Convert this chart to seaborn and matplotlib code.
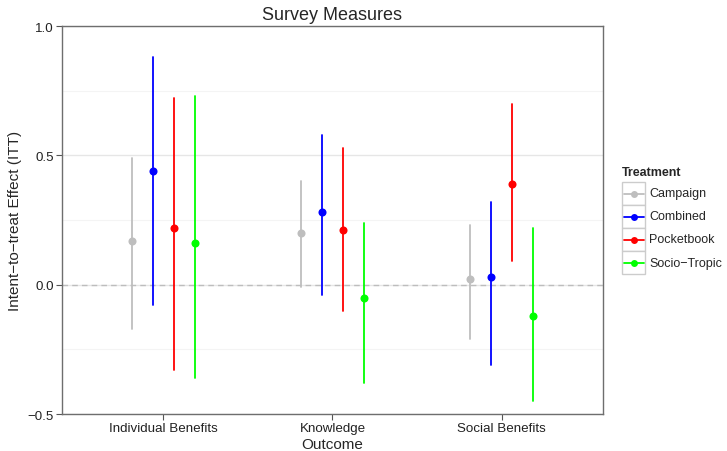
import numpy as np
import pandas as pd
from matplotlib import pyplot as plt
from matplotlib.lines import Line2D
from matplotlib.patches import Rectangle
import seaborn as sns

outcomes = ["Individual Benefits", "Knowledge", "Social Benefits"]
treatments = ["Campaign", "Combined", "Pocketbook", "Socio\u2212Tropic"]
colors = ["#BEBEBE", "#0000FF", "#FF0000", "#00FF00"]

# point estimates and interval ends, one list per treatment (order of outcomes)
est_campaign = [0.17, 0.20, 0.02]
est_combined = [0.44, 0.28, 0.03]
est_pocketbook = [0.22, 0.21, 0.39]
est_socio = [0.16, -0.05, -0.12]

lo_campaign = [-0.17, -0.01, -0.21]
lo_combined = [-0.08, -0.04, -0.31]
lo_pocketbook = [-0.33, -0.10, 0.09]
lo_socio = [-0.36, -0.38, -0.45]

hi_campaign = [0.49, 0.40, 0.23]
hi_combined = [0.88, 0.58, 0.32]
hi_pocketbook = [0.72, 0.53, 0.70]
hi_socio = [0.73, 0.24, 0.22]

est_all = [est_campaign, est_combined, est_pocketbook, est_socio]
lo_all = [lo_campaign, lo_combined, lo_pocketbook, lo_socio]
hi_all = [hi_campaign, hi_combined, hi_pocketbook, hi_socio]

# long table: lo / estimate / hi per cell -> median gives the estimate, full range gives the interval
rows = []
for t, e, l, h in zip(treatments, est_all, lo_all, hi_all):
    for i, o in enumerate(outcomes):
        for v in (l[i], e[i], h[i]):
            rows.append({"Outcome": o, "Treatment": t, "ITT": v})
df = pd.DataFrame(rows)

sns.set_theme(style="white")
plt.rcParams["font.family"] = ["Liberation Sans", "DejaVu Sans"]

W, H = 727, 452
fig = plt.figure(figsize=(W / 100, H / 100), dpi=100)
ax = fig.add_axes([62 / W, 1 - 415 / H, (603 - 62) / W, (415 - 27) / H])

ax.set_axisbelow(True)
for y in [-0.25, 0.25, 0.75]:
    ax.axhline(y, color="#F4F4F4", linewidth=0.8, zorder=0)
ax.grid(True, which="major", color="#E6E6E6", linewidth=1.0)
ax.axhline(0, color="#BDBDBD", linestyle=(0, (4, 3)), linewidth=1.0, zorder=1)

sns.pointplot(data=df, x="Outcome", y="ITT", hue="Treatment", order=outcomes,
              hue_order=treatments, palette=colors, estimator="median",
              errorbar=("pi", 100), dodge=0.375, linestyle="none",
              markersize=5.8, markeredgewidth=0, err_kws={"linewidth": 1.3},
              legend=False, ax=ax)

ax.set_xlim(-0.6, 2.6)
ax.set_ylim(-0.5, 1.0)
ax.set_yticks([-0.5, 0.0, 0.5, 1.0])
ax.set_yticklabels(["\u22120.5", "0.0", "0.5", "1.0"])
ax.tick_params(axis="both", direction="out", length=4, width=0.8, color="#555555",
               labelsize=9.6, labelcolor="#222222", pad=2,
               bottom=True, left=True)
for s in ax.spines.values():
    s.set_color("#6E6E6E")
    s.set_linewidth(1.0)
ax.set_xlabel("Outcome", fontsize=11, labelpad=2)
ax.set_ylabel("Intent\u2212to\u2212treat Effect (ITT)", fontsize=11, labelpad=4)
ax.set_title("Survey Measures", fontsize=13, pad=5)


def fx(x):
    return x / W


def fy(y):
    return 1 - y / H


fig.text(fx(622), fy(173), "Treatment", fontsize=9, fontweight="bold", va="center", ha="left")
box = 23
top = 183
for k, (t, c) in enumerate(zip(treatments, colors)):
    y0 = top + k * box
    fig.add_artist(Rectangle((fx(622), fy(y0 + box)), box / W, box / H, transform=fig.transFigure,
                             facecolor="white", edgecolor="#CCCCCC", linewidth=1.0))
    yc = y0 + box / 2
    fig.add_artist(Line2D([fx(624), fx(644)], [fy(yc), fy(yc)], transform=fig.transFigure,
                          color=c, linewidth=1.3))
    fig.add_artist(Line2D([fx(634)], [fy(yc)], transform=fig.transFigure, color=c,
                          marker="o", markersize=5, markeredgewidth=0, linestyle="none"))
    fig.text(fx(649), fy(yc), t, fontsize=9, va="center", ha="left")

fig.savefig("out.png", dpi=100)
